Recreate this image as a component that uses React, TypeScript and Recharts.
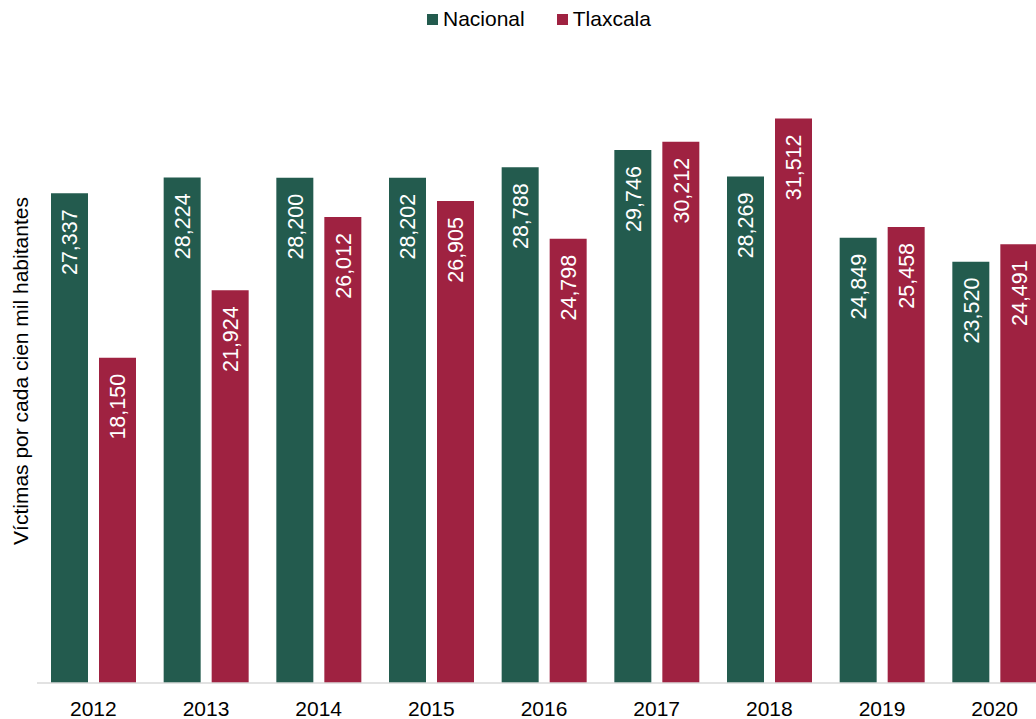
import React from "react";
import { BarChart, Bar, XAxis, YAxis, LabelList } from "recharts";

const years = ["2012", "2013", "2014", "2015", "2016", "2017", "2018", "2019", "2020"];
const nacional = [27337, 28224, 28200, 28202, 28788, 29746, 28269, 24849, 23520];
const tlaxcala = [18150, 21924, 26012, 26905, 24798, 30212, 31512, 25458, 24491];

const GREEN = "#235B4E";
const RED = "#9F2241";
const FONT = "'Liberation Sans', Arial, sans-serif";

const data = years.map((y, i) => ({ year: y, nacional: nacional[i], tlaxcala: tlaxcala[i] }));

const fmt = (v: number) => v.toLocaleString("en-US");

const renderLabel = (props: any) => {
  const { x, y, width, value } = props;
  const cx = x + width / 2 + 1;
  const ty = y + 16;
  return (
    <text
      x={cx}
      y={ty}
      transform={`rotate(-90, ${cx}, ${ty})`}
      textAnchor="end"
      dominantBaseline="central"
      fill="#ffffff"
      fontSize={21.5}
      fontFamily={FONT}
    >
      {fmt(value)}
    </text>
  );
};

export default function App() {
  return (
    <div
      style={{
        position: "fixed",
        left: 0,
        top: 0,
        width: 1036,
        height: 719,
        overflow: "hidden",
        background: "#ffffff",
        fontFamily: FONT,
      }}
    >
      <div style={{ position: "absolute", left: 0, top: 0 }}>
        <BarChart
          width={1060}
          height={719}
          data={data}
          margin={{ top: 56, right: 9, bottom: 6, left: 37 }}
          barSize={37}
          barGap={11}
        >
          <XAxis
            dataKey="year"
            height={30}
            tickLine={false}
            axisLine={{ stroke: "#d9d9d9", strokeWidth: 1.5 }}
            tick={{ fill: "#000000", fontSize: 21, fontFamily: FONT }}
            tickMargin={12}
            interval={0}
          />
          <YAxis hide domain={[0, 35000]} />
          <Bar dataKey="nacional" fill={GREEN} isAnimationActive={false}>
            <LabelList dataKey="nacional" content={renderLabel} />
          </Bar>
          <Bar dataKey="tlaxcala" fill={RED} isAnimationActive={false}>
            <LabelList dataKey="tlaxcala" content={renderLabel} />
          </Bar>
        </BarChart>
      </div>
      <svg
        width={60}
        height={719}
        style={{ position: "absolute", left: 0, top: 0 }}
      >
        <text
          x={20}
          y={371}
          transform="rotate(-90, 20, 371)"
          textAnchor="middle"
          dominantBaseline="central"
          fontSize={21}
          fontFamily={FONT}
          fill="#000000"
        >
          Víctimas por cada cien mil habitantes
        </text>
      </svg>
      <div
        style={{
          position: "absolute",
          top: 7,
          left: 427,
          display: "flex",
          alignItems: "center",
          fontSize: 21,
          color: "#000",
          lineHeight: "24px",
        }}
      >
        <span style={{ display: "inline-block", width: 11, height: 11, background: GREEN, marginRight: 5 }} />
        <span>Nacional</span>
        <span style={{ display: "inline-block", width: 11, height: 11, background: RED, marginLeft: 32, marginRight: 5 }} />
        <span>Tlaxcala</span>
      </div>
    </div>
  );
}
